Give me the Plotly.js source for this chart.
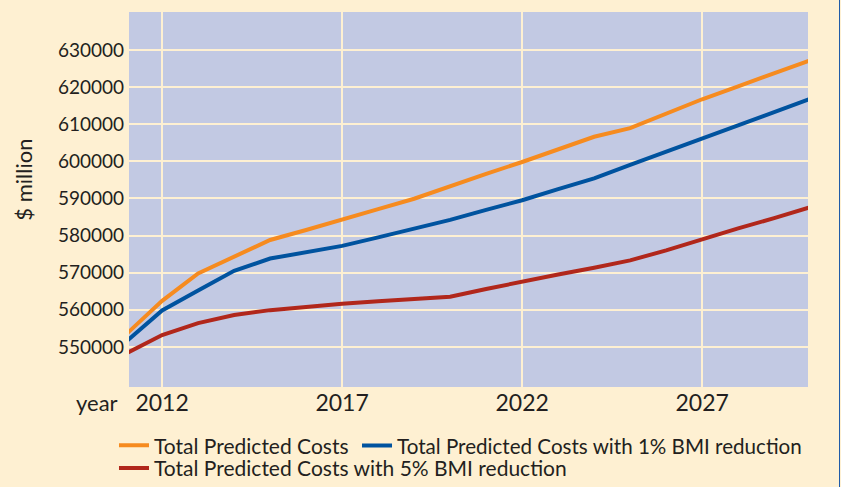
<!DOCTYPE html>
<html>
<head>
<meta charset="utf-8">
<script src="https://cdn.plot.ly/plotly-3.0.1.min.js"></script>
<style>
  html, body { margin: 0; padding: 0; background: #FEF0D2; }
  #chart { width: 839px; height: 487px; border-right: 1px solid #1F5BA8; }
</style>
</head>
<body>
<div id="chart"></div>
<script>
const years = [2011, 2012, 2013, 2014, 2015, 2016, 2017, 2018, 2019, 2020,
               2021, 2022, 2023, 2024, 2025, 2026, 2027, 2028, 2029, 2030];
const totalCosts = [553400, 562400, 569800, 574200, 578800, 581500, 584200, 587100, 589900, 593300,
                    596600, 599800, 603300, 606600, 608900, 612800, 616700, 620200, 623700, 627200];
const costs1pct = [551400, 559800, 565200, 570500, 573800, 575500, 577200, 579500, 581800, 584200,
                   586900, 589500, 592500, 595400, 599000, 602600, 606200, 609700, 613300, 616800];
const costs5pct = [548200, 553200, 556400, 558600, 559900, 560800, 561600, 562300, 562900, 563500,
                   565600, 567600, 569500, 571300, 573300, 576000, 579000, 581900, 584700, 587600];
const seriesNames = ['Total Predicted Costs',
                     'Total Predicted Costs with 1% BMI reduction',
                     'Total Predicted Costs with 5% BMI reduction'];
const xTicks = [2012, 2017, 2022, 2027];
const yTicks = [550000, 560000, 570000, 580000, 590000, 600000, 610000, 620000, 630000];

const cream = '#FEF0D2';
const textColor = '#231F20';
const fontFamily = 'Lato, "Noto Sans", sans-serif';

const traces = [
  { x: years, y: totalCosts, name: seriesNames[0], mode: 'lines', legend: 'legend',
    line: { color: '#F68B1F', width: 4 } },
  { x: years, y: costs1pct, name: seriesNames[1], mode: 'lines', legend: 'legend2',
    line: { color: '#00539F', width: 4 } },
  { x: years, y: costs5pct, name: seriesNames[2], mode: 'lines', legend: 'legend3',
    line: { color: '#B1271B', width: 4 } }
];

const legendBase = {
  orientation: 'h', xanchor: 'left', yanchor: 'middle',
  bgcolor: 'rgba(0,0,0,0)', borderwidth: 0,
  font: { size: 21, color: textColor }
};

const layout = {
  width: 839, height: 487,
  margin: { l: 129, r: 31, t: 12, b: 100, pad: 0, autoexpand: false },
  paper_bgcolor: cream,
  plot_bgcolor: '#C2C9E3',
  font: { family: fontFamily, size: 19, color: textColor },
  showlegend: true,
  legend:  Object.assign({}, legendBase, { x: -0.0221, y: -0.1565 }),
  legend2: Object.assign({}, legendBase, { x: 0.3358, y: -0.1565, font: { size: 20.6, color: textColor } }),
  legend3: Object.assign({}, legendBase, { x: -0.0221, y: -0.2168 }),
  xaxis: {
    range: [2011.08, 2029.94],
    tickmode: 'array', tickvals: xTicks, ticktext: xTicks.map(String),
    showgrid: true, gridcolor: cream, gridwidth: 2,
    zeroline: false, showline: false, ticks: '',
    tickfont: { size: 23, color: textColor }
  },
  yaxis: {
    range: [539200, 640200],
    tickmode: 'array', tickvals: yTicks, ticktext: yTicks.map(String),
    showgrid: true, gridcolor: cream, gridwidth: 2,
    zeroline: false, showline: false, ticks: '',
    ticklabelstandoff: 4,
    tickfont: { size: 19, color: textColor }
  },
  annotations: [
    { text: '$ million', xref: 'paper', yref: 'paper', x: -0.155, y: 0.552,
      xanchor: 'center', yanchor: 'middle', textangle: -90, showarrow: false,
      font: { size: 22, color: textColor } },
    { text: 'year', xref: 'paper', yref: 'paper', x: -0.013, y: -0.04,
      xanchor: 'right', yanchor: 'middle', showarrow: false,
      font: { size: 22, color: textColor } }
  ]
};

Plotly.newPlot('chart', traces, layout, { displayModeBar: false, staticPlot: true });
</script>
</body>
</html>
